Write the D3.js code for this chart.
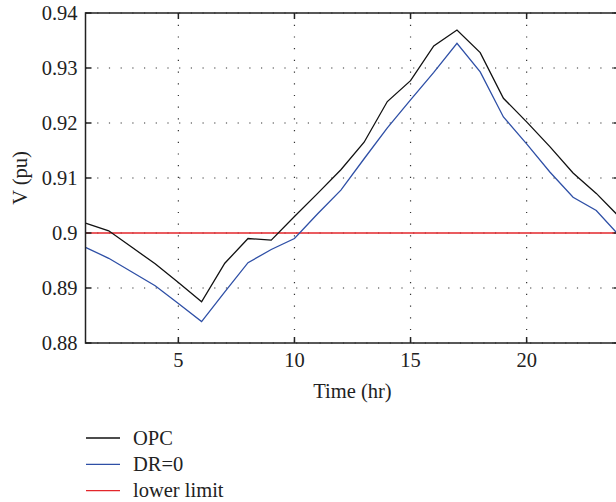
<!DOCTYPE html>
<html>
  <head>
    <meta charset="utf-8">
    <title>voltage</title>
    <script src="https://cdn.jsdelivr.net/npm/d3@7"></script>
    <style>
body { margin: 0; background: #fff; }
svg text { font-family: "Liberation Serif", "DejaVu Serif", serif; font-size: 20.5px; fill: #222; }
.grid line { stroke: #333; stroke-width: 1.2px; stroke-dasharray: 1.2,10.5; }
.frame { fill: none; stroke: #222; stroke-width: 1.5px; }
.tick { stroke: #222; stroke-width: 1.5px; }
    </style>
  </head>
  <body>
    <script>

// data
var hours = d3.range(1, 25);
var opc = [0.9018, 0.9004, 0.8974, 0.8944, 0.8910, 0.8875, 0.8945, 0.8990, 0.8987, 0.9030, 0.9072, 0.9115,
           0.9165, 0.9239, 0.9277, 0.9340, 0.9369, 0.9328, 0.9245, 0.9202, 0.9157, 0.9109, 0.9072, 0.9029];
var dr0 = [0.8974, 0.8954, 0.8929, 0.8904, 0.8872, 0.8839, 0.8893, 0.8946, 0.8970, 0.8990, 0.9035, 0.9078,
           0.9135, 0.9191, 0.9242, 0.9292, 0.9345, 0.9293, 0.9211, 0.9162, 0.9111, 0.9065, 0.9041, 0.8995];
var lowerLimit = 0.9;
var xTicks = [5, 10, 15, 20];
var yTicks = [0.88, 0.89, 0.9, 0.91, 0.92, 0.93, 0.94];
var seriesNames = ["OPC", "DR=0", "lower limit"];
var seriesColors = ["#111", "#2e4fa6", "#e3262b"];

var width = 616, height = 502;
var pLeft = 85.5, pRight = 619.5, pTop = 13, pBottom = 343;

var svg = d3.select("body").append("svg")
    .attr("width", width)
    .attr("height", height);

var x = d3.scaleLinear().domain([1, 24]).range([pLeft, pRight]);
var y = d3.scaleLinear().domain([0.88, 0.94]).range([pBottom, pTop]);

// grid
var grid = svg.append("g").attr("class", "grid");
grid.selectAll(".gx").data(xTicks).enter().append("line")
    .attr("x1", d => x(d)).attr("x2", d => x(d))
    .attr("y1", pTop).attr("y2", pBottom);
grid.selectAll(".gy").data(yTicks).enter().append("line")
    .attr("x1", pLeft).attr("x2", pRight)
    .attr("y1", d => y(d)).attr("y2", d => y(d));

// lines
var line = d3.line().x((d, i) => x(hours[i])).y(d => y(d));
svg.append("path").datum(hours.map(() => lowerLimit))
    .attr("d", line).attr("fill", "none")
    .attr("stroke", seriesColors[2]).attr("stroke-width", 1.3);
svg.append("path").datum(dr0)
    .attr("d", line).attr("fill", "none")
    .attr("stroke", seriesColors[1]).attr("stroke-width", 1.3);
svg.append("path").datum(opc)
    .attr("d", line).attr("fill", "none")
    .attr("stroke", seriesColors[0]).attr("stroke-width", 1.3);

// frame + inward ticks
svg.append("rect").attr("class", "frame")
    .attr("x", pLeft).attr("y", pTop)
    .attr("width", pRight - pLeft).attr("height", pBottom - pTop);

var tl = 6;
xTicks.forEach(function(t) {
  svg.append("line").attr("class", "tick")
    .attr("x1", x(t)).attr("x2", x(t)).attr("y1", pBottom).attr("y2", pBottom - tl);
  svg.append("line").attr("class", "tick")
    .attr("x1", x(t)).attr("x2", x(t)).attr("y1", pTop).attr("y2", pTop + tl);
  svg.append("text").attr("x", x(t)).attr("y", 367)
    .attr("text-anchor", "middle").text(t);
});
yTicks.forEach(function(t) {
  svg.append("line").attr("class", "tick")
    .attr("x1", pLeft).attr("x2", pLeft + tl).attr("y1", y(t)).attr("y2", y(t));
  svg.append("line").attr("class", "tick")
    .attr("x1", pRight).attr("x2", pRight - tl).attr("y1", y(t)).attr("y2", y(t));
  svg.append("text").attr("x", 77.5).attr("y", y(t) + 6.5)
    .attr("text-anchor", "end").text(+t.toFixed(2));
});

svg.append("text").attr("x", (pLeft + pRight) / 2).attr("y", 398)
    .attr("text-anchor", "middle").text("Time (hr)");
svg.append("text")
    .attr("transform", "translate(27," + ((pTop + pBottom) / 2) + ") rotate(-90)")
    .attr("text-anchor", "middle").text("V (pu)");

// legend
var leg = svg.append("g").attr("transform", "translate(86,438)");
seriesNames.forEach(function(n, i) {
  var g = leg.append("g").attr("transform", "translate(0," + (i * 26.3) + ")");
  g.append("line").attr("x1", 0).attr("x2", 34).attr("y1", 0).attr("y2", 0)
    .attr("stroke", seriesColors[i]).attr("stroke-width", 1.3);
  g.append("text").attr("x", 47).attr("y", 6.5).text(n);
});

    </script>
  </body>
</html>
